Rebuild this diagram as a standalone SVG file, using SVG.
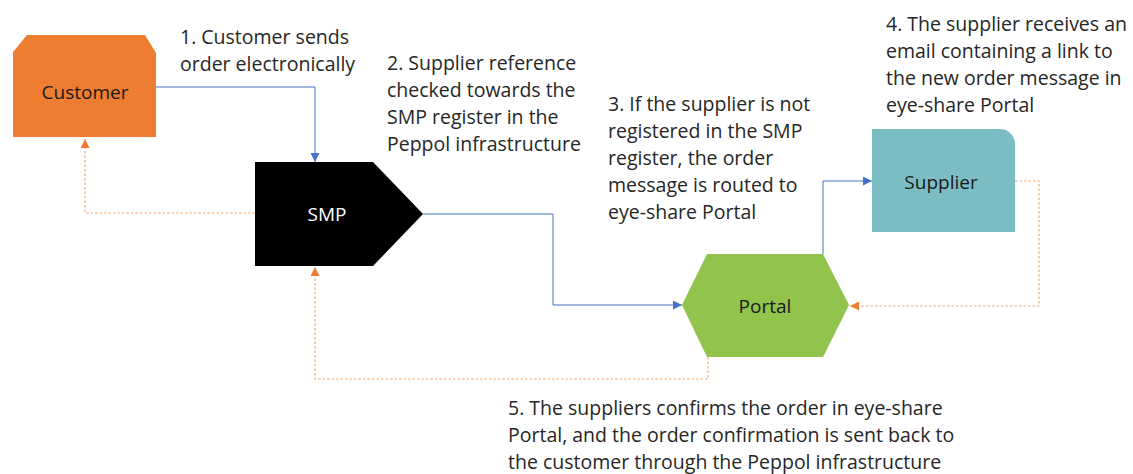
<svg xmlns="http://www.w3.org/2000/svg" width="1133" height="474" viewBox="0 0 1133 474">
<style>
.lbl{font-family:"Open Sans","Liberation Sans",sans-serif;font-size:19.5px;fill:#262626}
.node{font-family:"Open Sans","Liberation Sans",sans-serif;font-size:19px;text-anchor:middle;dominant-baseline:central}
.blue{fill:none;stroke:#4472C4;stroke-width:1;marker-end:url(#ab)}
.orange{fill:none;stroke:#F4A97A;stroke-width:1.2;stroke-dasharray:2.5,2;marker-end:url(#ao)}
</style>
<defs>
<marker id="ab" viewBox="0 0 10 10" refX="10" refY="5" markerWidth="9" markerHeight="9" markerUnits="userSpaceOnUse" orient="auto"><path d="M0,0 L10,5 L0,10 Z" fill="#4472C4"/></marker>
<marker id="ao" viewBox="0 0 10 10" refX="10" refY="5" markerWidth="9" markerHeight="9" markerUnits="userSpaceOnUse" orient="auto"><path d="M0,0 L10,5 L0,10 Z" fill="#ED7D31"/></marker>
</defs>
<rect width="1133" height="474" fill="#ffffff"/>
<g id="connectors">
<path class="blue" d="M156,87 H315 V162"/>
<path class="blue" d="M423,214 H553 V305 H682"/>
<path class="blue" d="M823,254 V181 H872"/>
<path class="orange" d="M255,213 H85 V139"/>
<path class="orange" d="M1015,181 H1039 V306 H850"/>
<path class="orange" d="M708,357 V379 H315 V267"/>
</g>
<g id="customer">
<path d="M27,35 H145 L156,53 V137 H13 V52 Z" fill="#ED7D31"/>
<text class="node" x="85" y="92" fill="#1a1a1a">Customer</text>
</g>
<g id="smp">
<path d="M255,162 H373 L423,214 L373,266 H255 Z" fill="#000000"/>
<text class="node" x="327" y="214" fill="#ffffff">SMP</text>
</g>
<g id="portal">
<path d="M707,254 H823 L849,305 L823,357 H707 L682,305 Z" fill="#92C34C"/>
<text class="node" x="765" y="306" fill="#1a1a1a">Portal</text>
</g>
<g id="supplier">
<path d="M872,129 H1000 A15,15 0 0 1 1015,144 V232 H872 Z" fill="#7CBDC3"/>
<text class="node" x="941" y="182" fill="#1a1a1a">Supplier</text>
</g>
<g id="labels">
<text class="lbl"><tspan x="180" y="44">1. Customer sends</tspan><tspan x="180" y="71">order electronically</tspan></text>
<text class="lbl"><tspan x="387" y="70">2. Supplier reference</tspan><tspan x="387" y="97">checked towards the</tspan><tspan x="387" y="124">SMP register in the</tspan><tspan x="387" y="151">Peppol infrastructure</tspan></text>
<text class="lbl"><tspan x="608" y="111">3. If the supplier is not</tspan><tspan x="608" y="138">registered in the SMP</tspan><tspan x="608" y="165">register, the order</tspan><tspan x="608" y="192">message is routed to</tspan><tspan x="608" y="219">eye-share Portal</tspan></text>
<text class="lbl"><tspan x="886" y="31">4. The supplier receives an</tspan><tspan x="886" y="58">email containing a link to</tspan><tspan x="886" y="85">the new order message in</tspan><tspan x="886" y="112">eye-share Portal</tspan></text>
<text class="lbl"><tspan x="508" y="415">5. The suppliers confirms the order in eye-share</tspan><tspan x="508" y="442">Portal, and the order confirmation is sent back to</tspan><tspan x="508" y="469">the customer through the Peppol infrastructure</tspan></text>
</g>
</svg>
